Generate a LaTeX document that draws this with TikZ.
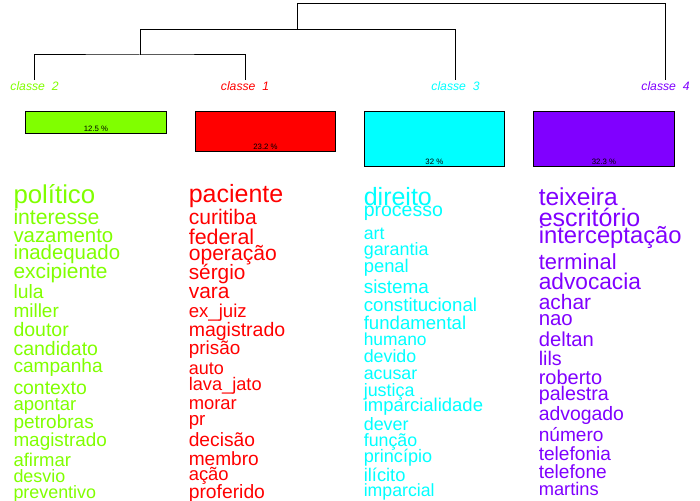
\documentclass[tikz,border=0pt]{standalone}
\usepackage{fontspec}
\setmainfont{Liberation Sans}
\definecolor{cgreen}{HTML}{80FF00}
\definecolor{cred}{HTML}{FF0000}
\definecolor{ccyan}{HTML}{00FFFF}
\definecolor{cpurple}{HTML}{8000FF}
\newcommand{\wordat}[6]{\node[wordnode, text=#2] (#1) at (#3,#4) {\fontsize{#5pt}{#5pt}\selectfont #6};}
\newcommand{\pctat}[4]{\node[pctnode] (#1) at (#2,#3) {#4};}
\tikzset{
  wordnode/.style={inner sep=0pt, outer sep=0pt, anchor=base west},
  pctnode/.style={inner sep=0pt, anchor=base, text=black, font=\fontsize{7.8pt}{7.8pt}\selectfont},
  classlabel/.style={inner sep=0pt, anchor=base, font=\fontsize{12.2pt}{12.2pt}\selectfont\itshape},
  dendro/.style={draw=black, line width=1pt},
  barbox/.style={draw=black, line width=1pt},
}
\begin{document}
\begin{tikzpicture}[x=1pt,y=-1pt]
\useasboundingbox (0,0) rectangle (700,500);
% dendrogram
\coordinate (b2) at (34.5,80);
\coordinate (b1) at (245,80);
\coordinate (b3) at (455.5,80);
\coordinate (b4) at (665.5,80);
\coordinate (m21) at (140,55);
\coordinate (m213) at (297.5,29.5);
\coordinate (topr) at (665.5,3.5);
\draw[dendro] (b2) |- (m21) -| (b1);
\draw[dendro] (m21) |- (m213) -| (b3);
\draw[dendro] (m213) |- (topr) -- (b4);
% class labels
\node[classlabel, text=cgreen] (lab2) at (34.5,90.5) {classe\ \ 2};
\node[classlabel, text=cred] (lab1) at (245,90.5) {classe\ \ 1};
\node[classlabel, text=ccyan] (lab3) at (455.5,90.5) {classe\ \ 3};
\node[classlabel, text=cpurple] (lab4) at (665.5,90.5) {classe\ \ 4};
% bars
\path[barbox, fill=cgreen] (25.5,111) rectangle (166.5,133.3);
\path[barbox, fill=cred] (195.7,111) rectangle (335.3,151.3);
\path[barbox, fill=ccyan] (364.3,111) rectangle (504.3,166);
\path[barbox, fill=cpurple] (533.3,111) rectangle (674.5,166);
\pctat{p2}{96}{131}{12.5 \%}
\pctat{p1}{265.5}{149.3}{23.2 \%}
\pctat{p3}{434.3}{164}{32 \%}
\pctat{p4}{604}{164}{32.3 \%}
% class 2 words
\wordat{g1}{cgreen}{13.5}{203}{25.8}{político}
\wordat{g2}{cgreen}{13.5}{224.3}{21.2}{interesse}
\wordat{g3}{cgreen}{13.5}{242.3}{20.4}{vazamento}
\wordat{g4}{cgreen}{13.5}{259.3}{20.4}{inadequado}
\wordat{g5}{cgreen}{13.5}{278.3}{20.9}{excipiente}
\wordat{g6}{cgreen}{13.5}{298.8}{19.3}{lula}
\wordat{g7}{cgreen}{13.5}{317.8}{19}{miller}
\wordat{g8}{cgreen}{13.5}{336.4}{19.5}{doutor}
\wordat{g9}{cgreen}{13.5}{355}{19.5}{candidato}
\wordat{g10}{cgreen}{13.5}{372.7}{19.1}{campanha}
\wordat{g11}{cgreen}{13.5}{394}{19.4}{contexto}
\wordat{g12}{cgreen}{13.5}{410.7}{18.5}{apontar}
\wordat{g13}{cgreen}{13.5}{428.3}{19}{petrobras}
\wordat{g14}{cgreen}{13.5}{446}{18.9}{magistrado}
\wordat{g15}{cgreen}{13.5}{466.7}{18.5}{afirmar}
\wordat{g16}{cgreen}{13.5}{482}{17.9}{desvio}
\wordat{g17}{cgreen}{13.5}{498.3}{17.9}{preventivo}
% class 1 words
\wordat{r1}{cred}{188.8}{202.5}{25}{paciente}
\wordat{r2}{cred}{188.8}{224.3}{21.1}{curitiba}
\wordat{r3}{cred}{188.8}{244}{21.4}{federal}
\wordat{r4}{cred}{188.8}{260}{21.1}{operação}
\wordat{r5}{cred}{188.8}{279.3}{20.8}{sérgio}
\wordat{r6}{cred}{188.8}{298.3}{20.9}{vara}
\wordat{r7}{cred}{188.8}{317.7}{18.6}{ex\_juiz}
\wordat{r8}{cred}{188.8}{336.7}{19.5}{magistrado}
\wordat{r9}{cred}{188.8}{354.3}{18.9}{prisão}
\wordat{r10}{cred}{188.8}{374.3}{18}{auto}
\wordat{r11}{cred}{188.8}{390.7}{18.2}{lava\_jato}
\wordat{r12}{cred}{188.8}{409}{18.4}{morar}
\wordat{r13}{cred}{188.8}{425}{18.7}{pr}
\wordat{r14}{cred}{188.8}{446.7}{19.2}{decisão}
\wordat{r15}{cred}{188.8}{465}{19.1}{membro}
\wordat{r16}{cred}{188.8}{480.7}{18.4}{ação}
\wordat{r17}{cred}{188.8}{498.3}{19.3}{proferido}
% class 3 words
\wordat{c1}{ccyan}{363.8}{205}{25}{direito}
\wordat{c2}{ccyan}{363.8}{216.7}{19.5}{processo}
\wordat{c3}{ccyan}{363.8}{239.3}{17.7}{art}
\wordat{c4}{ccyan}{363.8}{255}{17.9}{garantia}
\wordat{c5}{ccyan}{363.8}{272.7}{18.4}{penal}
\wordat{c6}{ccyan}{363.8}{293.3}{18.9}{sistema}
\wordat{c7}{ccyan}{363.8}{311.5}{18.7}{constitucional}
\wordat{c8}{ccyan}{363.8}{329}{18.6}{fundamental}
\wordat{c9}{ccyan}{363.8}{345.7}{17.4}{humano}
\wordat{c10}{ccyan}{363.8}{362.7}{17.8}{devido}
\wordat{c11}{ccyan}{363.8}{379}{17.8}{acusar}
\wordat{c12}{ccyan}{363.8}{396}{17.9}{justiça}
\wordat{c13}{ccyan}{363.8}{411}{18.5}{imparcialidade}
\wordat{c14}{ccyan}{363.8}{430.7}{17.9}{dever}
\wordat{c15}{ccyan}{363.8}{446.7}{17.8}{função}
\wordat{c16}{ccyan}{363.8}{462.7}{18.1}{princípio}
\wordat{c17}{ccyan}{363.8}{481.7}{18.3}{ilícito}
\wordat{c18}{ccyan}{363.8}{496.7}{17.7}{imparcial}
% class 4 words
\wordat{v1}{cpurple}{538.8}{205.8}{24.5}{teixeira}
\wordat{v2}{cpurple}{538.8}{226.5}{25}{escritório}
\wordat{v3}{cpurple}{538.8}{243.8}{23.8}{interceptação}
\wordat{v4}{cpurple}{538.8}{269.3}{21.9}{terminal}
\wordat{v5}{cpurple}{538.8}{289.3}{22.7}{advocacia}
\wordat{v6}{cpurple}{538.8}{309.3}{20.9}{achar}
\wordat{v7}{cpurple}{538.8}{325}{20.4}{nao}
\wordat{v8}{cpurple}{538.8}{346}{20.2}{deltan}
\wordat{v9}{cpurple}{538.8}{365}{19.7}{lils}
\wordat{v10}{cpurple}{538.8}{384}{20}{roberto}
\wordat{v11}{cpurple}{538.8}{400.7}{19.7}{palestra}
\wordat{v12}{cpurple}{538.8}{420}{19.4}{advogado}
\wordat{v13}{cpurple}{538.8}{441}{19.1}{número}
\wordat{v14}{cpurple}{538.8}{460}{19.1}{telefonia}
\wordat{v15}{cpurple}{538.8}{478.3}{19.1}{telefone}
\wordat{v16}{cpurple}{538.8}{495}{18.3}{martins}
\end{tikzpicture}
\end{document}
